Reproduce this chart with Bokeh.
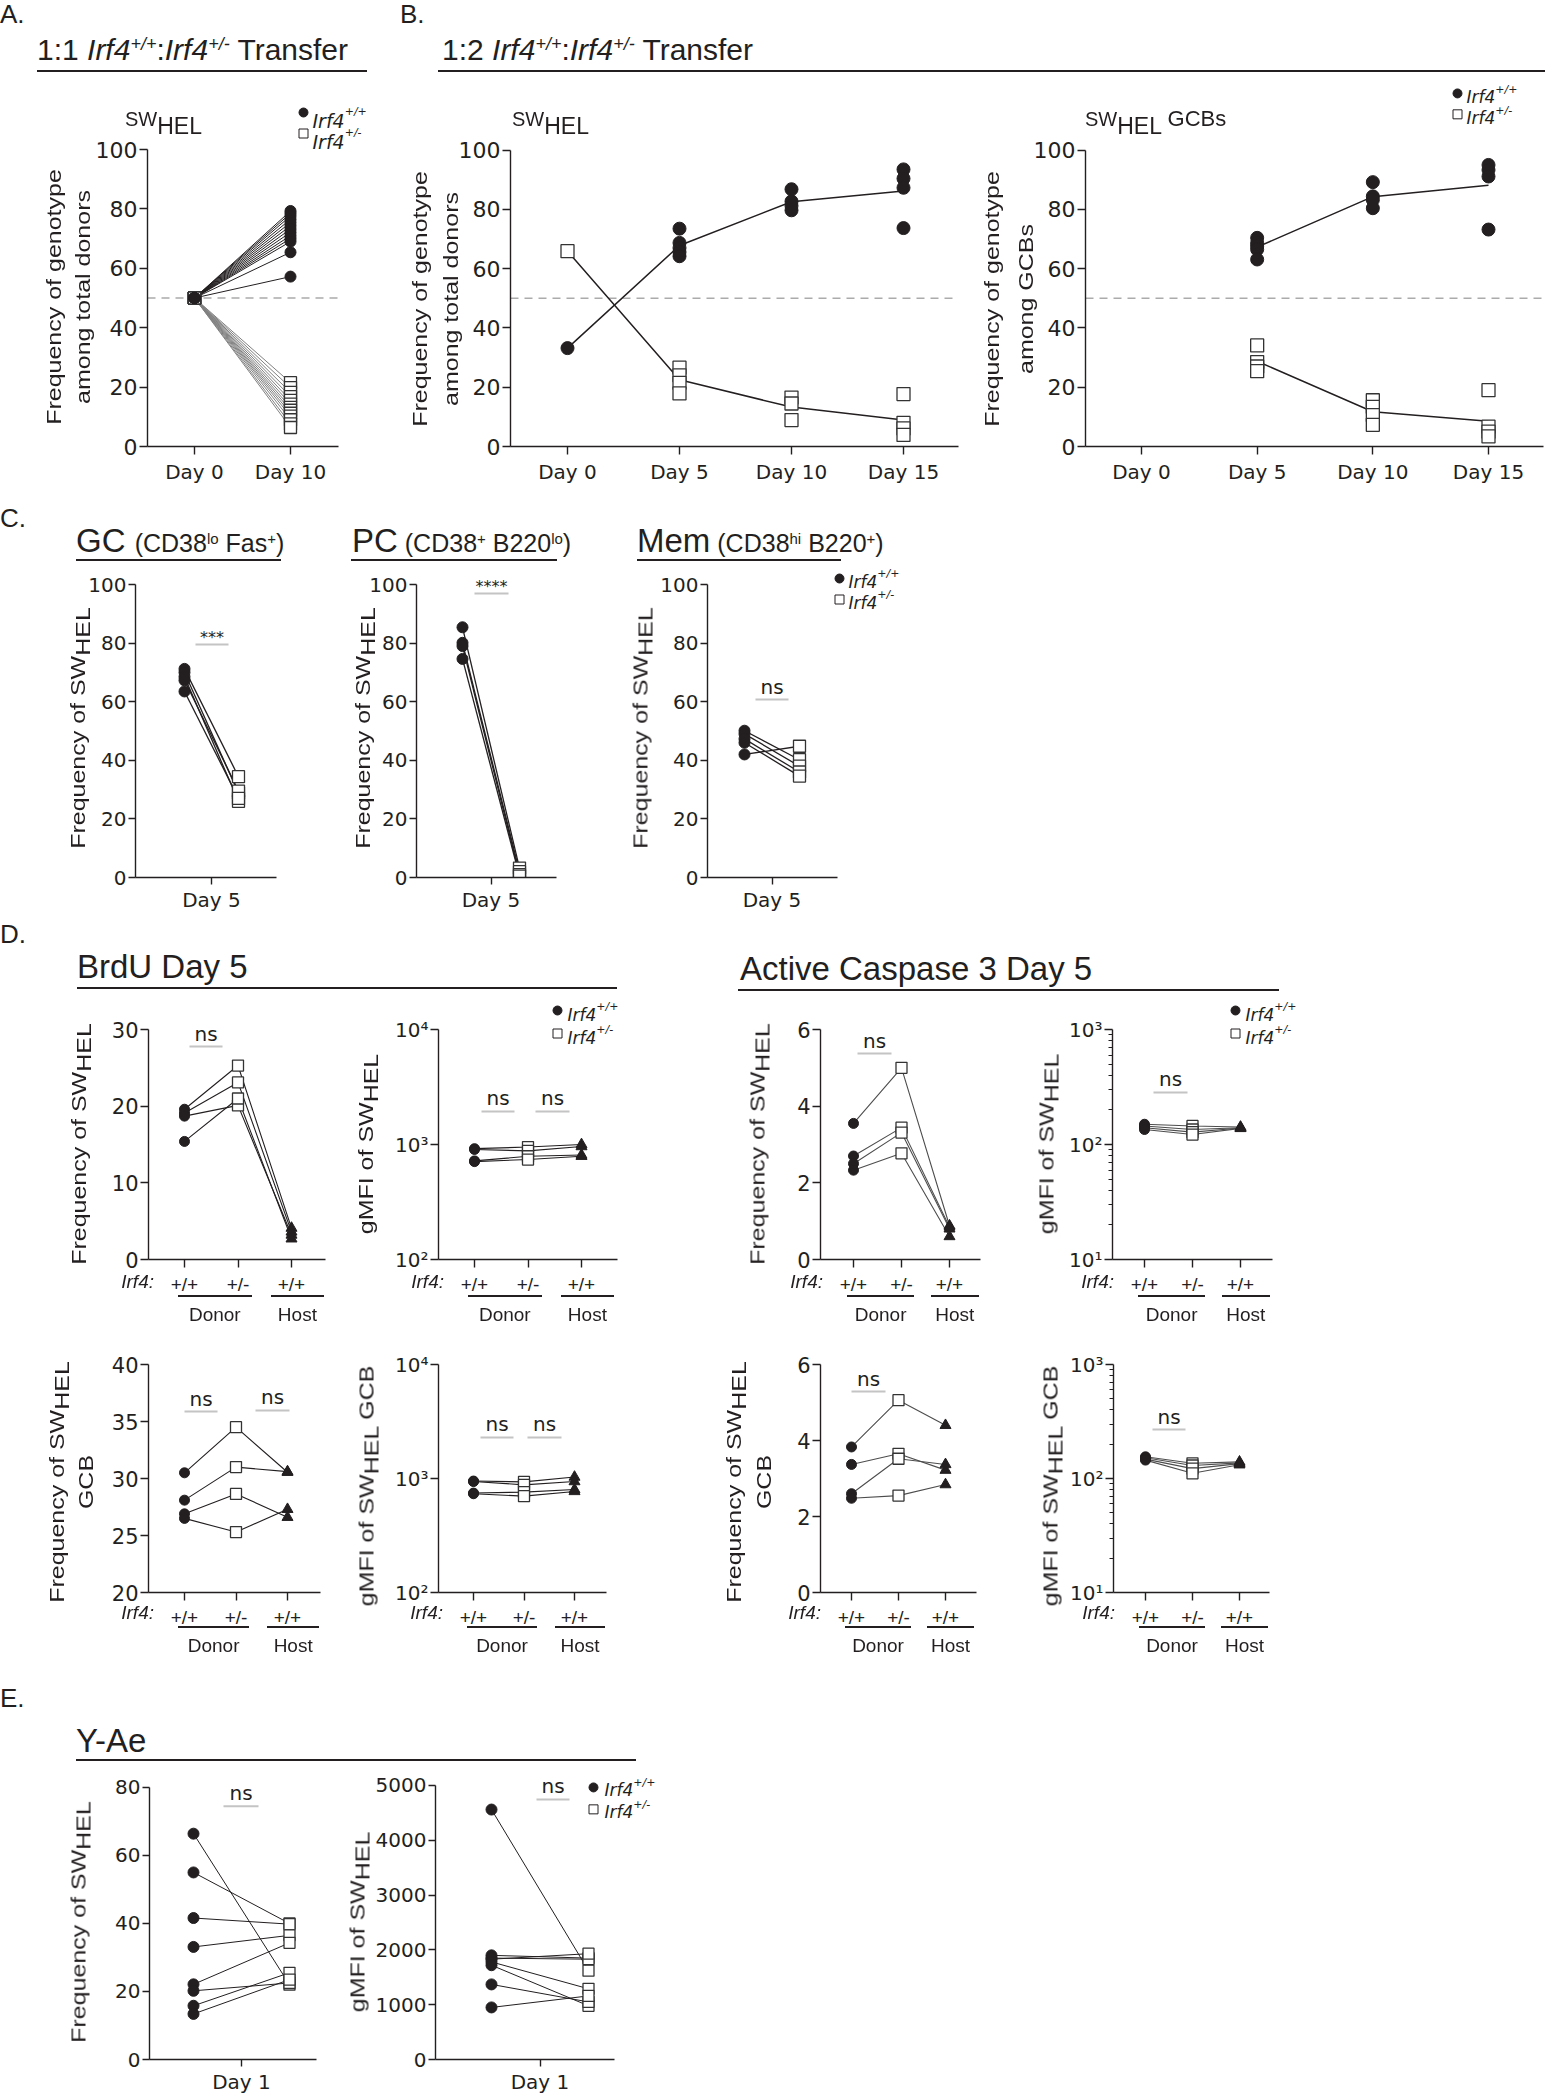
import math
import pandas as pd
from bokeh.plotting import figure
from bokeh.models import Range1d, Label, FixedTicker, Div, Spacer
from bokeh.layouts import row, column
from bokeh.embed import file_html
from bokeh.resources import INLINE

FONT = "Liberation Sans"      # headers and axis titles (HTML)
TFONT = "DejaVu Sans"         # tick labels and in-plot labels
INK = "#231f20"
GRAY_LINE = "#808080"
NS_GRAY = "#c4c4c4"
LABEL_DY = -7                 # baseline correction for in-plot labels

# ------------------------------------------------------------------ data
# A. 1:1 transfer (frequency of genotype among total donors, %)
a_tick_labels = ["Day 0", "Day 10"]
a_day0 = 50.0
a_wt_day10 = [79.3, 78.5, 77.6, 76.5, 75.4, 74.3, 73.2, 72.1, 71.0, 70.0, 69.0, 65.4, 57.2]
a_het_day10 = [21.5, 19.8, 18.2, 16.8, 15.5, 14.3, 13.2, 12.2, 11.2, 10.2, 9.0, 7.6, 6.4]

# B. 1:2 transfer
b_ticks = [0, 5, 10, 15]
b_tick_labels = ["Day 0", "Day 5", "Day 10", "Day 15"]
b1_wt_day = [0, 5, 5, 5, 5, 5, 10, 10, 10, 10, 15, 15, 15, 15]
b1_wt_val = [33.2, 73.5, 68.7, 67.0, 65.6, 64.2, 86.8, 82.7, 81.2, 79.7, 93.5, 90.4, 87.3, 73.7]
b1_het_day = [0, 5, 5, 5, 5, 10, 10, 10, 15, 15, 15, 15]
b1_het_val = [65.9, 26.6, 24.0, 21.5, 17.9, 16.5, 14.5, 8.9, 17.7, 8.0, 6.1, 3.9]
b2_wt_day = [5, 5, 5, 5, 5, 10, 10, 10, 10, 15, 15, 15, 15]
b2_wt_val = [70.4, 68.7, 67.6, 66.5, 63.1, 89.2, 84.4, 83.2, 80.4, 95.0, 93.3, 91.1, 73.2]
b2_het_day = [5, 5, 5, 5, 10, 10, 10, 10, 15, 15, 15, 15]
b2_het_val = [34.1, 28.5, 27.0, 25.4, 15.6, 13.4, 10.6, 7.3, 19.0, 6.7, 5.0, 3.4]

# C. Day 5 subsets (frequency of SW_HEL, %)
c_tick_label = ["Day 5"]
gc_wt = [71.2, 70.0, 68.5, 67.3, 63.5]
gc_het = [34.4, 28.8, 26.0, 29.5, 27.0]
pc_wt = [85.4, 80.1, 79.0, 74.6]
pc_het = [3.2, 2.0, 1.0, 0.5]
mem_wt = [50.1, 49.0, 47.3, 46.0, 42.0]
mem_het = [40.2, 38.0, 36.0, 34.6, 44.8]

# D. BrdU / Active caspase 3, day 5 (donor +/+, donor +/-, host +/+)
d_group_labels = ["+/+", "+/-", "+/+"]
brdu_freq_wt = [19.6, 19.1, 18.7, 15.4]
brdu_freq_het = [25.3, 23.1, 20.1, 21.0]
brdu_freq_host = [4.1, 3.6, 3.2, 2.7]
brdu_mfi_wt = [920, 905, 720, 710]
brdu_mfi_het = [950, 880, 790, 740]
brdu_mfi_host = [1000, 960, 810, 790]
casp_freq_wt = [3.55, 2.70, 2.50, 2.33]
casp_freq_het = [5.00, 3.44, 3.31, 2.77]
casp_freq_host = [0.88, 0.85, 0.80, 0.60]
casp_mfi_wt = [150, 145, 140, 135]
casp_mfi_het = [145, 135, 128, 122]
casp_mfi_host = [142, 140, 139, 138]
gcb_freq_wt = [30.5, 28.1, 26.9, 26.5]
gcb_freq_het = [34.5, 31.0, 28.65, 25.3]
gcb_freq_host = [30.55, 30.6, 26.6, 27.3]
gcb_mfi_wt = [950, 940, 745, 735]
gcb_mfi_het = [935, 880, 760, 700]
gcb_mfi_host = [1030, 940, 800, 770]
cgcb_freq_wt = [3.83, 3.37, 2.60, 2.48]
cgcb_freq_het = [5.06, 3.65, 3.52, 2.55]
cgcb_freq_host = [4.40, 3.22, 3.37, 2.84]
cgcb_mfi_wt = [155, 152, 148, 145]
cgcb_mfi_het = [136, 130, 122, 111]
cgcb_mfi_host = [140, 137, 135, 132]

# E. Y-Ae, day 1
e_tick_label = ["Day 1"]
yae_freq_wt = [66.4, 55.0, 41.6, 33.1, 22.1, 20.2, 15.8, 13.4]
yae_freq_het = [22.0, 40.0, 39.8, 36.5, 34.3, 22.5, 25.5, 23.5]
yae_mfi_wt = [4560, 1900, 1850, 1830, 1780, 1720, 1370, 950]
yae_mfi_het = [1620, 1850, 1830, 1930, 1290, 980, 1050, 1160]

# ------------------------------------------------------------------ helpers
W_DV = {' ': .318, '(': .390, ')': .390, '*': .500, '+': .838, '-': .361, '.': .318, '/': .337,
        ':': .337, 'I': .295, 'f': .352, 'r': .411, 'n': .634, 's': .521}
for _d in "0123456789":
    W_DV[_d] = .636


def tw(s, size):
    return sum(W_DV.get(c, .62) for c in s) * size


# overlay (HTML) items for text that sits outside the plot frames, in page pixels
OV = []


def ov_text(x, base, fs, inner, align="left", extra=""):
    top = base - 0.8465 * fs
    tr = {"left": "", "center": "transform:translateX(-50%);",
          "right": "transform:translateX(-100%);"}[align]
    OV.append(f'<div style="position:fixed;z-index:10;left:{x:.1f}px;top:{top:.1f}px;'
              f'font-size:{fs}px;line-height:1;white-space:nowrap;{tr}{extra}">{inner}</div>')


def ov_vtext(xc, yc, inner, fs=21, sx=1.19):
    OV.append(f'<div style="position:fixed;z-index:10;left:{xc:.1f}px;top:{yc:.1f}px;'
              f'font-size:{fs}px;line-height:1;white-space:nowrap;'
              f'transform:translate(-50%,-50%) rotate(-90deg) scale({sx},1);">{inner}</div>')


def ov_rule(x0, x1, y, th=2):
    OV.append(f'<div style="position:fixed;z-index:10;left:{x0:.1f}px;top:{y - th / 2:.1f}px;'
              f'width:{x1 - x0:.1f}px;height:{th}px;background:{INK};"></div>')


def SUB(t):
    return f'<span style="position:relative;top:0.25em;">{t}</span>'


FREQ_HTML = "Frequency of SW" + SUB("HEL")
GMFI_HTML = "gMFI of SW" + SUB("HEL")
GMFI_GCB_HTML = "gMFI of SW" + SUB("HEL") + " GCB"


def sw_title(x, extra=""):
    inner = ('SW<span style="font-size:23px;position:relative;top:8px;">HEL</span>' + extra)
    ov_text(x, 124, 20, inner)


class Pan:
    def __init__(self, fig, frame, xa, xb, ya, yb, yticks, xticks, xlabels, x_end_px,
                 log=False, yover=None, minor=None, ytick_size=20, xtick_size=20,
                 xtick_font=TFONT, x_standoff=5, tick_len=8):
        L, T, R, B = fig
        l, t, r, b = frame
        self.l = l
        self.log = log
        (dx0, px0), (dx1, px1) = xa, xb
        self.kx = (dx1 - dx0) / (px1 - px0)
        self.cx = dx0 - self.kx * px0
        f = math.log10 if log else (lambda v: v)
        (dy0, py0), (dy1, py1) = ya, yb
        self.ky = (f(dy1) - f(dy0)) / (py1 - py0)
        self.cy = f(dy0) - self.ky * py0
        p = figure(width=R - L, height=B - T,
                   x_range=Range1d(self.X(l), self.X(r)),
                   y_range=Range1d(self.Y(b), self.Y(t)),
                   y_axis_type="log" if log else "linear",
                   output_backend="svg", toolbar_location=None, title=None,
                   min_border_left=l - L, min_border_right=R - r,
                   min_border_top=t - T, min_border_bottom=B - b)
        p.xgrid.visible = False
        p.ygrid.visible = False
        p.outline_line_color = None
        p.background_fill_color = None
        p.border_fill_color = None
        ax_x, ax_y = p.xaxis[0], p.yaxis[0]
        for ax in (ax_x, ax_y):
            ax.axis_line_color = INK
            ax.axis_line_width = 1.4
            ax.major_tick_line_color = INK
            ax.major_tick_line_width = 1.4
            ax.major_tick_in = 0
            ax.major_tick_out = tick_len
            ax.minor_tick_line_color = None
            ax.major_label_text_color = INK
        ax_y.major_label_text_font = TFONT
        ax_x.major_label_text_font = xtick_font
        ax_y.major_label_text_font_size = f"{ytick_size}px"
        ax_x.major_label_text_font_size = f"{xtick_size}px"
        ax_x.major_label_standoff = x_standoff
        ax_y.major_label_standoff = 2
        ax_y.ticker = FixedTicker(ticks=yticks, minor_ticks=minor or [])
        if yover:
            ax_y.major_label_overrides = yover
        if minor:
            ax_y.minor_tick_line_color = INK
            ax_y.minor_tick_line_width = 1
            ax_y.minor_tick_in = 0
            ax_y.minor_tick_out = 4
        ax_y.bounds = (yticks[0], yticks[-1])
        ax_x.ticker = FixedTicker(ticks=xticks)
        ax_x.major_label_overrides = dict(zip(xticks, xlabels))
        ax_x.bounds = (self.X(l), self.X(x_end_px))
        self.p = p

    def X(self, px):
        return self.cx + self.kx * px

    def PX(self, xd):
        return (xd - self.cx) / self.kx

    def Y(self, py):
        v = self.cy + self.ky * py
        return 10 ** v if self.log else v

    def text(self, xpx, ypx, s, size, align="left", style="normal"):
        self.p.add_layout(Label(x=self.X(xpx), y=self.Y(ypx + LABEL_DY), text=s, text_font=TFONT,
                                text_font_size=f"{size}px", text_align=align,
                                text_baseline="alphabetic", text_font_style=style,
                                text_color=INK))

    def hseq(self, x, parts):
        for t, s, st, base in parts:
            self.text(x, base, t, s, style=st)
            x += tw(t, s)

    def legend(self, xm, y1, y2, xt, dy, fs, sfs, ms=9):
        self.p.scatter([self.X(xm)], [self.Y(y1)], marker="circle", size=ms,
                       fill_color=INK, line_color=INK)
        self.p.scatter([self.X(xm)], [self.Y(y2)], marker="square", size=ms,
                       fill_color="white", line_color=INK, line_width=1)
        for y, s in ((y1, "+/+"), (y2, "+/-")):
            base = y + dy
            self.hseq(xt, [("Irf4", fs, "italic", base), (s, sfs, "italic", base - 0.45 * fs)])

    def ns(self, x0, x1, base, yline, s="ns", size=20):
        self.p.segment(x0=[self.X(x0)], y0=[self.Y(yline)], x1=[self.X(x1)], y1=[self.Y(yline)],
                       line_color=NS_GRAY, line_width=2)
        self.text((x0 + x1) / 2, base, s, size, align="center")

    def hdash(self, yval, x_end_px):
        self.p.segment(x0=[self.X(self.l)], y0=[yval], x1=[self.X(x_end_px)], y1=[yval],
                       line_color="#ababab", line_width=1.5, line_dash="8 6")

    def circles(self, x, y, s):
        self.p.scatter(x, y, marker="circle", size=s, fill_color=INK, line_color=INK)

    def squares(self, x, y, s):
        self.p.scatter(x, y, marker="square", size=s, fill_color="white", line_color="#333333",
                       line_width=1.3)

    def triangles(self, x, y, s):
        self.p.scatter(x, y, marker="triangle", size=s, fill_color=INK, line_color=INK)


PCT_TICKS = [0, 20, 40, 60, 80, 100]

# ------------------------------------------------------------------ A
PA = Pan((0, 80, 400, 492), (147, 80, 398, 446), (0, 194), (1, 290), (0, 446), (100, 149),
         PCT_TICKS, [0, 1], a_tick_labels, 338, ytick_size=22, xtick_size=20)
PA.hdash(50, 338)
na = len(a_wt_day10)
PA.p.multi_line([[0, 1]] * na, [[a_day0, v] for v in a_het_day10], line_color=GRAY_LINE, line_width=1)
PA.p.multi_line([[0, 1]] * na, [[a_day0, v] for v in a_wt_day10], line_color=INK, line_width=1)
PA.squares([0] * na, [a_day0] * na, 12)
PA.squares([1] * na, a_het_day10, 12)
PA.circles([0] * na, [a_day0] * na, 11)
PA.circles([1] * na, a_wt_day10, 11)
PA.legend(303, 112, 133, 312, 15, 19, 11)
sw_title(125)
ov_vtext(53, 297, "Frequency of genotype")
ov_vtext(82, 297, "among total donors")


def b_panel(fig, frame, xa, xb, x_end, wt_day, wt_val, het_day, het_val):
    P = Pan(fig, frame, xa, xb, (0, 448), (100, 150), PCT_TICKS, b_ticks, b_tick_labels, x_end,
            ytick_size=22, xtick_size=20)
    P.hdash(50, x_end)
    wt = pd.DataFrame({"day": wt_day, "v": wt_val}).groupby("day")["v"].mean()
    het = pd.DataFrame({"day": het_day, "v": het_val}).groupby("day")["v"].mean()
    P.p.line(list(wt.index), list(wt.values), line_color=INK, line_width=1.5)
    P.p.line(list(het.index), list(het.values), line_color=INK, line_width=1.5)
    P.squares(het_day, het_val, 13)
    P.circles(wt_day, wt_val, 13)
    return P


PB1 = b_panel((400, 80, 970, 492), (510, 80, 968, 448), (0, 567), (15, 903), 958,
              b1_wt_day, b1_wt_val, b1_het_day, b1_het_val)
sw_title(512)
ov_vtext(419, 299, "Frequency of genotype")
ov_vtext(450, 299, "among total donors")

PB2 = b_panel((970, 80, 1545, 492), (1085, 80, 1543, 448), (0, 1141), (15, 1488), 1543,
              b2_wt_day, b2_wt_val, b2_het_day, b2_het_val)
sw_title(1085, ' <span style="font-size:22px;">GCBs</span>')
PB2.legend(1457, 93, 114, 1466, 11, 17, 11)
ov_vtext(991, 299, "Frequency of genotype")
ov_vtext(1025, 299, "among GCBs")


# ------------------------------------------------------------------ C
def c_panel(fig, frame, xa, xb, x_end, wt, het, ylab_x):
    P = Pan(fig, frame, xa, xb, (0, 877), (100, 584), PCT_TICKS, [0.5], c_tick_label, x_end,
            ytick_size=20, xtick_size=20, x_standoff=3, tick_len=7)
    n = len(wt)
    P.p.multi_line([[0, 1]] * n, [[a, b] for a, b in zip(wt, het)], line_color=INK, line_width=1.3)
    P.circles([0] * n, wt, 11)
    P.squares([1] * n, het, 12)
    ov_vtext(ylab_x, 728, FREQ_HTML)
    return P


PGC = c_panel((0, 566, 300, 916), (135, 566, 298, 877), (0, 184), (1, 238), 276, gc_wt, gc_het, 77)
PGC.ns(195, 228, 644, 644, "***", 16)
PPC = c_panel((300, 566, 590, 916), (416, 566, 588, 877), (0, 462), (1, 519), 556, pc_wt, pc_het, 362)
PPC.ns(474, 508, 593, 593, "****", 16)
PMEM = c_panel((590, 566, 912, 916), (707, 566, 910, 877), (0, 744), (1, 799), 837, mem_wt, mem_het, 640)
PMEM.ns(755, 788, 693, 699)
PMEM.legend(839, 578, 599, 848, 10, 17, 11)

# ------------------------------------------------------------------ D
LOG_OVR = {10: "10\u00b9", 100: "10\u00b2", 1000: "10\u00b3", 10000: "10\u2074"}
MINOR = [20, 30, 40, 50, 60, 70, 80, 90, 200, 300, 400, 500, 600, 700, 800, 900]


def d_panel(fig, frame, ya, yb, yticks, xt, x_end, wt, het, host, lcolor, rowinfo, ylabels,
            ns_specs, log=False, minor=None, legend=None):
    yover = {k: LOG_OVR[k] for k in yticks} if log else None
    P = Pan(fig, frame, (0, xt[0]), (2, xt[1]), ya, yb, yticks, [0, 1, 2], d_group_labels, x_end,
            log=log, yover=yover, minor=minor, ytick_size=20 if log else 21, xtick_size=19,
            xtick_font=FONT, x_standoff=6)
    n = len(wt)
    P.p.multi_line([[0, 1, 2]] * n, [[a, b, c] for a, b, c in zip(wt, het, host)],
                   line_color=lcolor, line_width=1.1)
    P.circles([0] * n, wt, 10)
    P.squares([1] * n, het, 11)
    P.triangles([2] * n, host, 11)
    for spec in ns_specs:
        P.ns(*spec)
    irf_base, gline, donor_base = rowinfo
    ov_text(P.PX(0) - 30, irf_base, 19, "<i>Irf4:</i>", align="right")
    ov_rule(P.PX(-0.12), P.PX(1.27), gline)
    ov_rule(P.PX(1.62), P.PX(2.62), gline)
    ov_text(P.PX(0.575), donor_base, 19, "Donor", align="center")
    ov_text(P.PX(2.12), donor_base, 19, "Host", align="center")
    for xc, yc, html in ylabels:
        ov_vtext(xc, yc, html)
    if legend:
        P.legend(*legend)
    return P


R1 = (1288, 1296, 1321)
R2 = (1619, 1627, 1652)
DARK = "#4d4d4d"

PD1 = d_panel((0, 995, 340, 1332), (148, 995, 338, 1259), (0, 1259), (30, 1029), [0, 10, 20, 30],
              (184, 291), 325, brdu_freq_wt, brdu_freq_het, brdu_freq_host, INK, R1,
              [(78, 1144, FREQ_HTML)], [(189, 222, 1040, 1046)])
PD2 = d_panel((340, 995, 640, 1332), (438, 995, 638, 1259), (100, 1259), (10000, 1029),
              [100, 1000, 10000], (474, 581), 617, brdu_mfi_wt, brdu_mfi_het, brdu_mfi_host, INK, R1,
              [(365, 1144, GMFI_HTML)], [(481, 514, 1104, 1111), (535, 569, 1104, 1111)], log=True,
              legend=(557, 1010, 1033, 567, 11, 17, 11))
PD3 = d_panel((640, 995, 1000, 1332), (820, 995, 998, 1259), (0, 1259), (6, 1029), [0, 2, 4, 6],
              (853, 949), 980, casp_freq_wt, casp_freq_het, casp_freq_host, DARK, R1,
              [(757, 1144, FREQ_HTML)], [(857, 891, 1047, 1053)])
PD4 = d_panel((1000, 995, 1300, 1332), (1112, 995, 1298, 1259), (10, 1259), (1000, 1029),
              [10, 100, 1000], (1144, 1240), 1272, casp_mfi_wt, casp_mfi_het, casp_mfi_host, DARK, R1,
              [(1046, 1144, GMFI_HTML)], [(1153, 1187, 1085, 1092)], log=True, minor=MINOR,
              legend=(1235, 1010, 1033, 1245, 11, 17, 11))

PD5 = d_panel((0, 1332, 340, 1668), (148, 1332, 338, 1592), (20, 1592), (40, 1364),
              [20, 25, 30, 35, 40], (184, 287), 320, gcb_freq_wt, gcb_freq_het, gcb_freq_host, INK, R2,
              [(56, 1482, FREQ_HTML), (85, 1482, "GCB")],
              [(184, 217, 1405, 1411), (255, 289, 1403, 1410)])
PD6 = d_panel((340, 1332, 640, 1668), (438, 1332, 638, 1592), (100, 1592), (10000, 1364),
              [100, 1000, 10000], (473, 574), 606, gcb_mfi_wt, gcb_mfi_het, gcb_mfi_host, INK, R2,
              [(366, 1486, GMFI_GCB_HTML)], [(480, 513, 1430, 1437), (527, 561, 1430, 1437)], log=True)
PD7 = d_panel((640, 1332, 1000, 1668), (820, 1332, 998, 1592), (0, 1592), (6, 1364), [0, 2, 4, 6],
              (851, 945), 976, cgcb_freq_wt, cgcb_freq_het, cgcb_freq_host, DARK, R2,
              [(733, 1482, FREQ_HTML), (763, 1482, "GCB")], [(851, 885, 1385, 1391)])
PD8 = d_panel((1000, 1332, 1300, 1668), (1113, 1332, 1298, 1592), (10, 1592), (1000, 1364),
              [10, 100, 1000], (1145, 1239), 1269, cgcb_mfi_wt, cgcb_mfi_het, cgcb_mfi_host, DARK, R2,
              [(1050, 1486, GMFI_GCB_HTML)], [(1152, 1185, 1423, 1429)], log=True, minor=MINOR)


# ------------------------------------------------------------------ E
def e_panel(fig, frame, xa, xb, yb, yticks, x_end, wt, het, ylab_x, ylab_html):
    P = Pan(fig, frame, xa, xb, (0, 2060), yb, yticks, [0.5], e_tick_label, x_end,
            ytick_size=20, xtick_size=20, x_standoff=3, tick_len=7)
    n = len(wt)
    P.p.multi_line([[0, 1]] * n, [[a, b] for a, b in zip(wt, het)], line_color=INK, line_width=1)
    P.circles([0] * n, wt, 11)
    P.squares([1] * n, het, 11)
    ov_vtext(ylab_x, 1922, ylab_html)
    return P


PE1 = e_panel((0, 1766, 340, 2096), (149, 1766, 338, 2060), (0, 193), (1, 289), (80, 1787),
              [0, 20, 40, 60, 80], 316, yae_freq_wt, yae_freq_het, 78, FREQ_HTML)
PE1.ns(223, 258, 1800, 1806)
PE2 = e_panel((340, 1766, 700, 2096), (435, 1766, 698, 2060), (0, 491), (1, 588), (5000, 1785),
              [0, 1000, 2000, 3000, 4000, 5000], 614, yae_mfi_wt, yae_mfi_het, 357, GMFI_HTML)
PE2.ns(536, 569, 1793, 1799)
PE2.legend(593, 1787, 1809, 604, 10, 17, 11)


# ------------------------------------------------------------------ headers (HTML)
def sup(t):
    return f'<span style="font-size:0.6em;vertical-align:0.55em;line-height:0;">{t}</span>'


def htxt(xref, base_ref, top_ref, fs, inner):
    top = max(0.0, base_ref - 0.8465 * fs - top_ref)
    return (f'<div style="position:absolute;left:{xref}px;top:{top:.1f}px;font-size:{fs}px;'
            f'line-height:1;white-space:nowrap;">{inner}</div>')


def hrule(x0, x1, yref, top_ref):
    return (f'<div style="position:absolute;left:{x0}px;top:{yref - 1 - top_ref}px;'
            f'width:{x1 - x0}px;height:2px;background:{INK};"></div>')


def hdr(height, items):
    html = (f'<div style="position:relative;width:1545px;height:{height}px;'
            f'font-family:\'{FONT}\';color:{INK};">' + "".join(items) + '</div>')
    return Div(text=html, width=1545, height=height, margin=0)


IRF_WT = f'<i>Irf4{sup("+/+")}</i>'
IRF_HET = f'<i>Irf4{sup("+/-")}</i>'
H1 = hdr(80, [
    htxt(0, 23, 0, 26, "A."),
    htxt(400, 23, 0, 26, "B."),
    htxt(37, 60, 0, 30, f"1:1 {IRF_WT}:{IRF_HET} Transfer"),
    htxt(442, 60, 0, 30, f"1:2 {IRF_WT}:{IRF_HET} Transfer"),
    hrule(37, 367, 71, 0),
    hrule(438, 1545, 71, 0),
])
H3 = hdr(74, [
    htxt(0, 527, 492, 26, "C."),
    htxt(76, 552, 492, 33, f'GC <span style="font-size:25px">(CD38{sup("lo")} Fas{sup("+")})</span>'),
    htxt(352, 552, 492, 33, f'PC<span style="font-size:25px"> (CD38{sup("+")} B220{sup("lo")})</span>'),
    htxt(637, 552, 492, 33, f'Mem<span style="font-size:25px"> (CD38{sup("hi")} B220{sup("+")})</span>'),
    hrule(76, 281, 560, 492),
    hrule(351, 557, 560, 492),
    hrule(637, 841, 560, 492),
])
H5 = hdr(79, [
    htxt(0, 943, 916, 26, "D."),
    htxt(77, 978, 916, 33, "BrdU Day 5"),
    htxt(740, 980, 916, 33, "Active Caspase 3 Day 5"),
    hrule(77, 617, 988, 916),
    hrule(738, 1279, 990, 916),
])
H8 = hdr(98, [
    htxt(0, 1707, 1668, 26, "E."),
    htxt(76, 1752, 1668, 33, "Y-Ae"),
    hrule(76, 636, 1760, 1668),
])

OVERLAY = Div(text=(f'<div style="font-family:\'{FONT}\';color:{INK};">' + "".join(OV) + '</div>'),
              width=1, height=1, margin=0)


def sp(w, h):
    return Spacer(width=w, height=h, margin=0)


layout = column(
    H1,
    row(PA.p, PB1.p, PB2.p),
    H3,
    row(PGC.p, PPC.p, PMEM.p, sp(633, 350)),
    H5,
    row(PD1.p, PD2.p, PD3.p, PD4.p, sp(245, 337)),
    row(PD5.p, PD6.p, PD7.p, PD8.p, sp(245, 336)),
    H8,
    row(PE1.p, PE2.p, sp(845, 330)),
    OVERLAY,
)

with open("out.html", "w") as fh:
    fh.write(file_html(layout, INLINE, "Irf4 transfer"))
